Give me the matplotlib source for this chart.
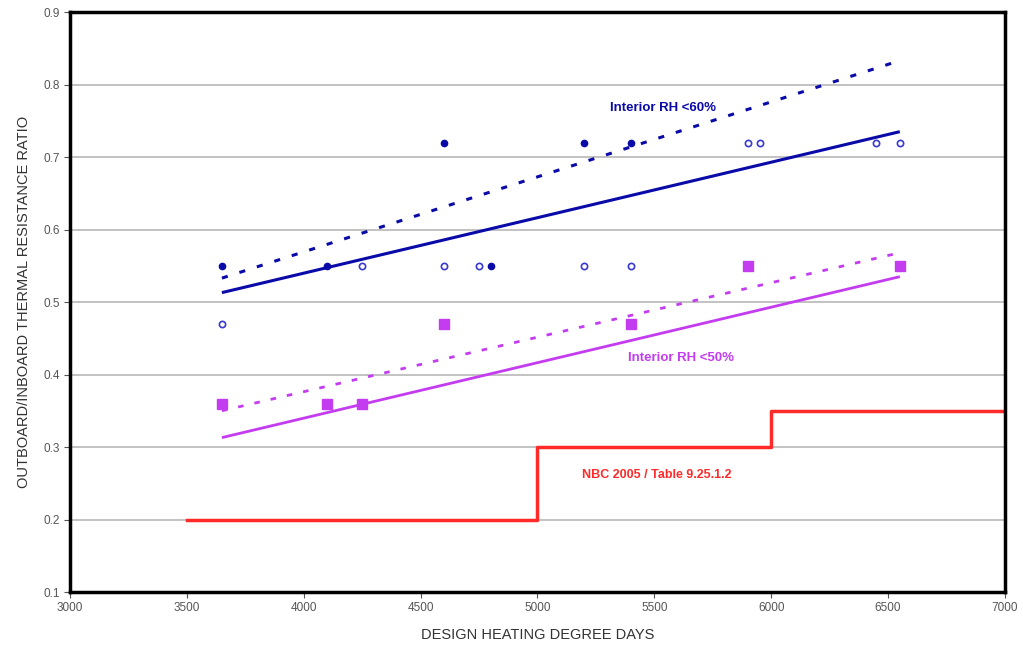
import matplotlib.pyplot as plt

# measured points, interior RH < 60% (filled) and extra points (open)
rh60_filled_x = [3650, 4100, 4600, 4800, 5200, 5400]
rh60_filled_y = [0.55, 0.55, 0.72, 0.55, 0.72, 0.72]
rh60_open_x = [3650, 4250, 4600, 4750, 5200, 5400, 5900, 5950, 6450, 6550]
rh60_open_y = [0.47, 0.55, 0.55, 0.55, 0.55, 0.55, 0.72, 0.72, 0.72, 0.72]

# interior RH < 50%
rh50_x = [3650, 4100, 4250, 4600, 5400, 5900, 6550]
rh50_y = [0.36, 0.36, 0.36, 0.47, 0.47, 0.55, 0.55]

# trend lines (end points)
trend_x = [3650, 6550]
rh60_solid = [0.513, 0.735]
rh60_dash = [0.533, 0.833]
rh50_solid = [0.313, 0.535]
rh50_dash = [0.350, 0.568]

# NBC 2005 table 9.25.1.2 requirement
nbc_x = [3500, 5000, 5000, 6000, 6000, 7000]
nbc_y = [0.2, 0.2, 0.3, 0.3, 0.35, 0.35]

blue = '#0a0aa8'
blue_light = '#3a3ad0'
magenta = '#c43cf0'
red = '#ff2a2a'

plt.rcParams['font.family'] = ['Liberation Sans', 'DejaVu Sans']

fig = plt.figure(figsize=(10.23, 6.48), dpi=100)
ax = fig.add_axes([0.0684, 0.0864, 0.914, 0.895])

ax.plot(trend_x, rh60_solid, color=blue, lw=2.2, solid_capstyle='butt')
ax.plot(trend_x, rh60_dash, color=blue, lw=2.2, dashes=(2, 4))
ax.plot(trend_x, rh50_solid, color=magenta, lw=2.0, solid_capstyle='butt')
ax.plot(trend_x, rh50_dash, color=magenta, lw=2.0, dashes=(2, 4))

ax.plot(rh60_open_x, rh60_open_y, 'o', ms=4.5, mfc='none', mec=blue_light, mew=1.2)
ax.plot(rh60_filled_x, rh60_filled_y, 'o', ms=4.5, color=blue)
ax.plot(rh50_x, rh50_y, 's', ms=6.5, color=magenta)

ax.plot(nbc_x, nbc_y, color=red, lw=2.5)

ax.text(5310, 0.768, 'Interior RH <60%', color=blue, fontsize=9.5,
        fontweight='bold', va='center')
ax.text(5387, 0.423, 'Interior RH <50%', color=magenta, fontsize=9.5,
        fontweight='bold', va='center')
ax.text(5190, 0.261, 'NBC 2005 / Table 9.25.1.2', color=red, fontsize=9,
        fontweight='bold', va='center')

ax.set_xlim(3000, 7000)
ax.set_ylim(0.1, 0.9)
ax.set_xticks(range(3000, 7001, 500))
ax.set_yticks([0.1, 0.2, 0.3, 0.4, 0.5, 0.6, 0.7, 0.8, 0.9])
ax.set_yticklabels(['0.1', '0.2', '0.3', '0.4', '0.5', '0.6', '0.7', '0.8', '0.9'])
ax.yaxis.grid(True, color='#b8b8b8', lw=1.2)
ax.set_axisbelow(True)
ax.tick_params(labelsize=8.5, colors='#555555', length=4, width=0.8)
for s in ax.spines.values():
    s.set_linewidth(2.5)
    s.set_color('black')

ax.set_xlabel('DESIGN HEATING DEGREE DAYS', fontsize=10.5, color='#333333', labelpad=10)
ax.set_ylabel('OUTBOARD/INBOARD THERMAL RESISTANCE RATIO', fontsize=10.5,
              color='#333333', labelpad=9)

fig.savefig('out.png', dpi=100)
